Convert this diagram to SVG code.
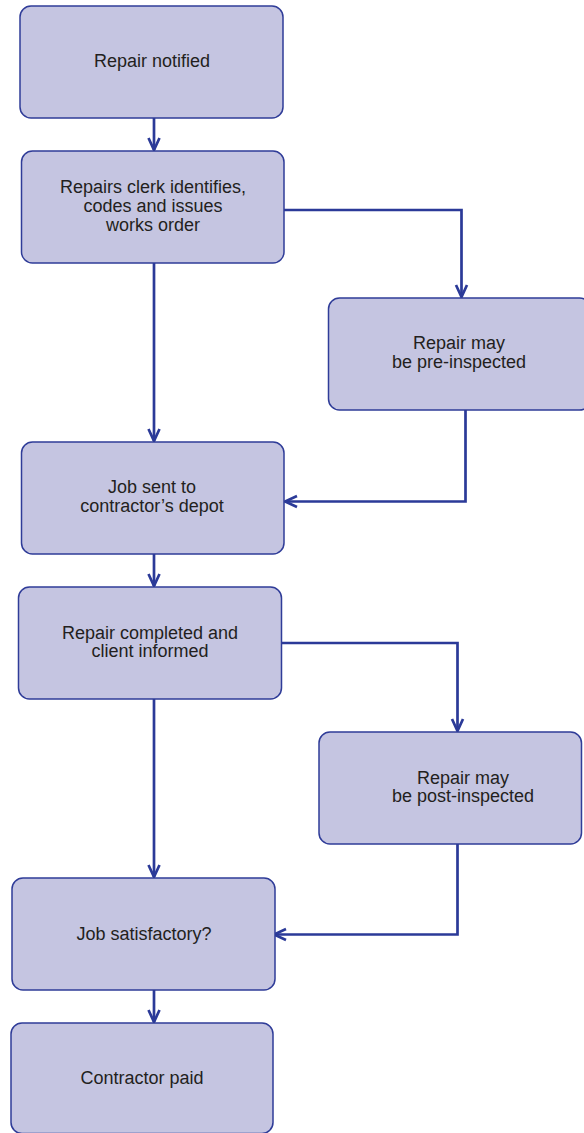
<svg xmlns="http://www.w3.org/2000/svg" width="584" height="1133" viewBox="0 0 584 1133">
  <style>
    .box { fill: #c5c5e1; stroke: #2f3c98; stroke-width: 1.5; }
    .lbl { font-family: "Liberation Sans", Arial, sans-serif; font-size: 18px; fill: #231f20; text-anchor: middle; }
    .conn { fill: none; stroke: #2b3a98; stroke-width: 2.7; }
  </style>
  <defs>
    <marker id="arr" markerUnits="userSpaceOnUse" markerWidth="16" markerHeight="16" viewBox="-14 -8 16 16" refX="0" refY="0" orient="auto">
      <path d="M-12,-5.5 L0,0 L-12,5.5" fill="none" stroke="#2b3a98" stroke-width="2.7"/>
    </marker>
  </defs>
  <rect width="584" height="1133" fill="#ffffff"/>
  <g id="connectors">
    <line class="conn" x1="154" y1="118" x2="154" y2="150" marker-end="url(#arr)"/>
    <polyline class="conn" points="284,210 461.5,210 461.5,297" marker-end="url(#arr)"/>
    <line class="conn" x1="154" y1="263" x2="154" y2="441" marker-end="url(#arr)"/>
    <polyline class="conn" points="465.5,410 465.5,501.5 285,501.5" marker-end="url(#arr)"/>
    <line class="conn" x1="154" y1="554" x2="154" y2="586" marker-end="url(#arr)"/>
    <polyline class="conn" points="282,643 457.5,643 457.5,731" marker-end="url(#arr)"/>
    <line class="conn" x1="154" y1="699" x2="154" y2="877" marker-end="url(#arr)"/>
    <polyline class="conn" points="457.5,844 457.5,934.5 274,934.5" marker-end="url(#arr)"/>
    <line class="conn" x1="154" y1="990" x2="154" y2="1022" marker-end="url(#arr)"/>
  </g>
  <g id="n1">
    <rect class="box" x="20" y="6" width="263" height="112" rx="11"/>
    <text class="lbl" x="152" y="67">Repair notified</text>
  </g>
  <g id="n2">
    <rect class="box" x="21.5" y="151" width="262.5" height="112" rx="11"/>
    <text class="lbl" x="153" y="193">Repairs clerk identifies,</text>
    <text class="lbl" x="153" y="212">codes and issues</text>
    <text class="lbl" x="153" y="230.5">works order</text>
  </g>
  <g id="n3">
    <rect class="box" x="328.5" y="298" width="262" height="112" rx="11"/>
    <text class="lbl" x="459" y="349">Repair may</text>
    <text class="lbl" x="459" y="367.5">be pre-inspected</text>
  </g>
  <g id="n4">
    <rect class="box" x="21.5" y="442" width="262.5" height="112" rx="11"/>
    <text class="lbl" x="152" y="493">Job sent to</text>
    <text class="lbl" x="152" y="512">contractor’s depot</text>
  </g>
  <g id="n5">
    <rect class="box" x="18.5" y="587" width="263" height="112" rx="11"/>
    <text class="lbl" x="150" y="638.5">Repair completed and</text>
    <text class="lbl" x="150" y="657">client informed</text>
  </g>
  <g id="n6">
    <rect class="box" x="319" y="732" width="262.5" height="112" rx="11"/>
    <text class="lbl" x="463" y="784">Repair may</text>
    <text class="lbl" x="463" y="802">be post-inspected</text>
  </g>
  <g id="n7">
    <rect class="box" x="12" y="878" width="263" height="112" rx="11"/>
    <text class="lbl" x="144" y="939.5">Job satisfactory?</text>
  </g>
  <g id="n8">
    <rect class="box" x="11" y="1023" width="262" height="110.5" rx="11"/>
    <text class="lbl" x="142" y="1083.5">Contractor paid</text>
  </g>
</svg>
